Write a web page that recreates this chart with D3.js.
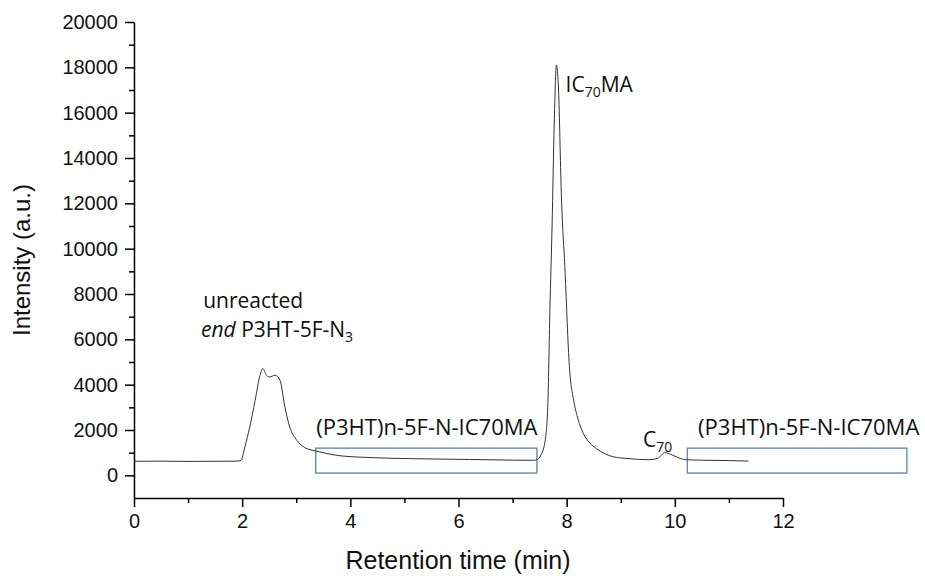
<!DOCTYPE html>
<html lang="en">
<head>
  <meta charset="UTF-8">
  <title>Retention time chromatogram</title>
  <script src="https://d3js.org/d3.v7.min.js"></script>
  <style>
    body { margin: 0; background: #fff; }
    .axis text { font-family: "Liberation Sans", Arial, sans-serif; font-size: 20px; fill: #111; }
    .axis path, .axis line { stroke: #000; stroke-width: 1.5; }
    .note { font-family: "Open Sans", "Noto Sans", sans-serif; font-size: 21px; fill: #111; }
  </style>
</head>
<body>
  <svg id="chart"></svg>

  <script>
    // trace (min, a.u.)
    const times = [0, 0.5, 1.0, 1.5, 1.9, 1.98, 2.05, 2.14, 2.24, 2.33, 2.38, 2.45, 2.51, 2.61, 2.70,
      2.79, 2.88, 3.01, 3.16, 3.31, 3.44, 3.7, 4.2, 5.16, 6.2, 7.0, 7.38, 7.46, 7.52, 7.60, 7.65,
      7.69, 7.73, 7.77, 7.81, 7.85, 7.90, 7.97, 8.05, 8.13, 8.21, 8.31, 8.43, 8.55, 8.70, 8.86,
      9.02, 9.17, 9.35, 9.54, 9.68, 9.75, 9.81, 9.88, 9.95, 10.03, 10.12, 10.21, 10.45, 10.65, 11.0, 11.36];
    const intensities = [620, 625, 615, 620, 625, 662, 1250, 2130, 3310, 4415, 4710, 4415, 4340, 4415, 4190,
      3015, 2130, 1545, 1220, 1100, 1030, 900, 800, 735, 700, 670, 662, 700, 880, 1500, 3000,
      7300, 11000, 15500, 18100, 17000, 12500, 9000, 4800, 3300, 2480, 1840, 1420, 1180, 960, 820,
      760, 737, 700, 690, 750, 880, 1000, 970, 900, 810, 730, 690, 670, 662, 650, 630];

    const xTicks = [0, 2, 4, 6, 8, 10, 12];
    const xMinor = [1, 3, 5, 7, 9, 11];
    const yTicks = d3.range(0, 20001, 2000);
    const yMinor = d3.range(1000, 20000, 2000);

    // highlighted regions: [t0, t1, v0, v1]
    const boxes = [[3.36, 7.45, 100, 1200], [10.23, 14.29, 100, 1200]];

    const width = 925, height = 576;
    const svg = d3.select("#chart").attr("width", width).attr("height", height);

    const x = d3.scaleLinear().domain([0, 12]).range([134, 783]);
    const y = d3.scaleLinear().domain([-1000, 20000]).range([498, 22]);

    // axes
    svg.append("g").attr("class", "axis")
      .attr("transform", `translate(0,${y(-1000)})`)
      .call(d3.axisBottom(x).tickValues(xTicks).tickFormat(d3.format("d"))
        .tickSize(9).tickSizeOuter(0).tickPadding(7));
    svg.append("g").attr("class", "axis")
      .attr("transform", `translate(0,${y(-1000)})`)
      .call(d3.axisBottom(x).tickValues(xMinor).tickSize(5).tickFormat(""))
      .select(".domain").remove();

    svg.append("g").attr("class", "axis")
      .attr("transform", `translate(${x(0)},0)`)
      .call(d3.axisLeft(y).tickValues(yTicks).tickFormat(d3.format("d"))
        .tickSize(9).tickSizeOuter(0).tickPadding(7));
    svg.append("g").attr("class", "axis")
      .attr("transform", `translate(${x(0)},0)`)
      .call(d3.axisLeft(y).tickValues(yMinor).tickSize(5).tickFormat(""))
      .select(".domain").remove();

    // axis titles
    svg.append("text")
      .attr("x", 458).attr("y", 569)
      .attr("text-anchor", "middle")
      .style("font-family", "'Liberation Sans', Arial, sans-serif")
      .style("font-size", "25px").style("fill", "#111")
      .text("Retention time (min)");
    svg.append("text")
      .attr("transform", `translate(30,${(y(-1000) + y(20000)) / 2}) rotate(-90)`)
      .attr("text-anchor", "middle")
      .style("font-family", "'Liberation Sans', Arial, sans-serif")
      .style("font-size", "24px").style("fill", "#111")
      .text("Intensity (a.u.)");

    // boxes
    svg.selectAll("rect.region")
      .data(boxes)
      .join("rect")
      .attr("class", "region")
      .attr("x", d => x(d[0]))
      .attr("y", d => y(d[3]))
      .attr("width", d => x(d[1]) - x(d[0]))
      .attr("height", d => y(d[2]) - y(d[3]))
      .attr("fill", "none")
      .attr("stroke", "#5b82ab")
      .attr("stroke-width", 1.3);

    // trace
    const pts = times.map((t, i) => [t, intensities[i]]);
    svg.append("path")
      .datum(pts)
      .attr("fill", "none")
      .attr("stroke", "#333")
      .attr("stroke-width", 1)
      .attr("d", d3.line().x(d => x(d[0])).y(d => y(d[1])).curve(d3.curveMonotoneX));

    // annotations
    svg.append("text").attr("class", "note")
      .attr("x", x(1.28)).attr("y", y(7370)).text("unreacted");

    const endNote = svg.append("text").attr("class", "note")
      .attr("x", x(1.24)).attr("y", y(6090));
    endNote.append("tspan").style("font-style", "italic").text("end");
    endNote.append("tspan").text(" P3HT-5F-N");
    endNote.append("tspan").attr("dy", 5).style("font-size", "14px").text("3");

    const ic = svg.append("text").attr("class", "note")
      .attr("x", x(7.98)).attr("y", y(16920));
    ic.append("tspan").text("IC");
    ic.append("tspan").attr("dy", 5).style("font-size", "14px").text("70");
    ic.append("tspan").attr("dy", -5).text("MA");

    const c70 = svg.append("text").attr("class", "note")
      .attr("x", x(9.41)).attr("y", y(1250));
    c70.append("tspan").text("C");
    c70.append("tspan").attr("dy", 5).style("font-size", "14px").text("70");

    svg.append("text").attr("class", "note").style("font-size", "22px")
      .attr("x", x(3.37)).attr("y", y(1800)).text("(P3HT)n-5F-N-IC70MA");
    svg.append("text").attr("class", "note").style("font-size", "22px")
      .attr("x", x(10.43)).attr("y", y(1800)).text("(P3HT)n-5F-N-IC70MA");
  </script>
</body>
</html>
